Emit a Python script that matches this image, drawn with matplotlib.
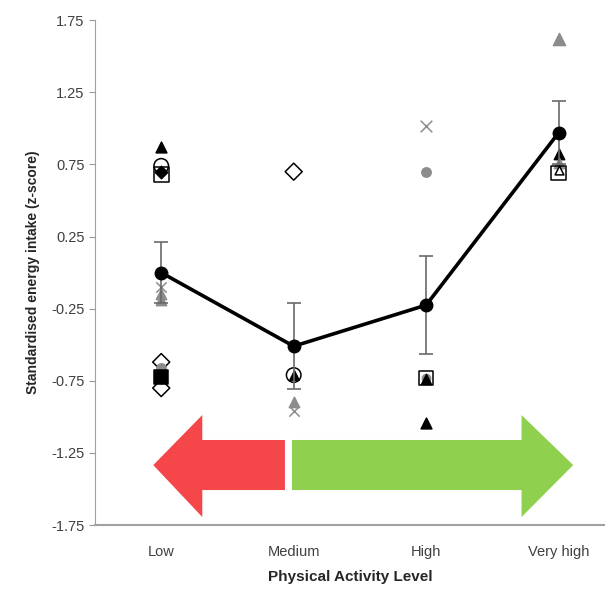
import matplotlib
matplotlib.use("Agg")
import matplotlib.pyplot as plt
from matplotlib.patches import Polygon

plt.rcParams['font.family'] = ['Liberation Sans', 'DejaVu Sans']

# data
levels = ["Low", "Medium", "High", "Very high"]
mean_z = [0.00, -0.51, -0.225, 0.97]
err_z = [0.21, 0.30, 0.34, 0.22]

# individual study points
grey = "#8c8c8c"
study_level = [0, 0, 0, 0, 0, 0, 0, 0, 0, 0, 0, 0,
               1, 1, 1, 1, 1,
               2, 2, 2, 2, 2, 2,
               3, 3, 3, 3, 3]
study_value = [0.87, 0.74, 0.70, 0.68, -0.10, -0.15, -0.19, -0.62, -0.66, -0.72, -0.74, -0.80,
               0.70, -0.71, -0.71, -0.90, -0.96,
               1.02, 0.70, -0.73, -0.73, -0.74, -1.04,
               1.62, 0.82, 0.76, 0.69, 0.71]
study_marker = ["^", "o", "D", "s", "x", "^", "^", "D", "o", "s", "o", "D",
                "D", "o", "^", "^", "x",
                "x", "o", "s", "o", "^", "^",
                "^", "^", "^", "s", "^"]
study_face = ["black", "none", "black", "none", grey, grey, grey, "none", grey, "black", "black", "none",
              "none", "none", "black", grey, grey,
              grey, grey, "none", grey, "black", "black",
              grey, "black", grey, "none", "white"]
study_edge = ["black", "black", "black", "black", "none", grey, grey, "black", grey, "black", "black", "black",
              "black", "black", "black", grey, "none",
              "none", grey, "black", grey, "black", "black",
              grey, "black", grey, "black", "black"]
study_size = [60, 110, 40, 110, 55, 55, 55, 75, 45, 90, 35, 75,
              75, 110, 45, 55, 55,
              70, 45, 110, 35, 50, 60,
              75, 55, 55, 110, 40]

# arrow shapes (data units)
red_arrow = [(-0.06, -1.334), (0.31, -0.987), (0.31, -1.16), (0.934, -1.16),
             (0.934, -1.507), (0.31, -1.507), (0.31, -1.694)]
green_arrow = [(0.987, -1.16), (2.72, -1.16), (2.72, -0.987), (3.11, -1.334),
               (2.72, -1.694), (2.72, -1.507), (0.987, -1.507)]

fig = plt.figure(figsize=(6.05, 5.94), dpi=100)
ax = fig.add_axes([0.157, 0.116, 0.843, 0.850])

ax.add_patch(Polygon(red_arrow, closed=True, facecolor="#f5474a", edgecolor="none", zorder=1))
ax.add_patch(Polygon(green_arrow, closed=True, facecolor="#8fd14f", edgecolor="none", zorder=1))

for i in range(len(study_value)):
    if study_marker[i] == "x":
        ax.scatter(study_level[i], study_value[i], marker="x", s=study_size[i],
                   c=study_face[i], linewidths=1.1, zorder=3)
    else:
        ax.scatter(study_level[i], study_value[i], marker=study_marker[i], s=study_size[i],
                   facecolors=study_face[i], edgecolors=study_edge[i], linewidths=1.1, zorder=3)

x = list(range(len(levels)))
ax.errorbar(x, mean_z, yerr=err_z, fmt="none", ecolor="#6a6a6a", elinewidth=1.2,
            capsize=5, capthick=1.2, zorder=4)
ax.plot(x, mean_z, color="black", linewidth=2.6, marker="o", markersize=9, zorder=5)

ax.set_xlim(-0.5, 3.35)
ax.set_ylim(-1.75, 1.75)
ax.set_yticks([1.75, 1.25, 0.75, 0.25, -0.25, -0.75, -1.25, -1.75])
ax.set_yticklabels(["1.75", "1.25", "0.75", "0.25", "-0.25", "-0.75", "-1.25", "-1.75"])
ax.set_xticks(x)
ax.set_xticklabels(levels)
ax.tick_params(axis="x", length=0, pad=14, labelsize=10.5, labelcolor="#404040")
ax.tick_params(axis="y", length=4, color="#999999", labelsize=10.5, labelcolor="#404040")

for side in ["top", "right"]:
    ax.spines[side].set_visible(False)
ax.spines["left"].set_color("#a0a0a0")
ax.spines["bottom"].set_color("#a0a0a0")
ax.spines["bottom"].set_linewidth(1.5)

ax.set_ylabel("Standardised energy intake (z-score)", fontsize=10, fontweight="bold",
              color="#262626", labelpad=8)
ax.set_xlabel("Physical Activity Level", fontsize=11, fontweight="bold",
              color="#262626", labelpad=8)

fig.savefig("out.png", dpi=100)
